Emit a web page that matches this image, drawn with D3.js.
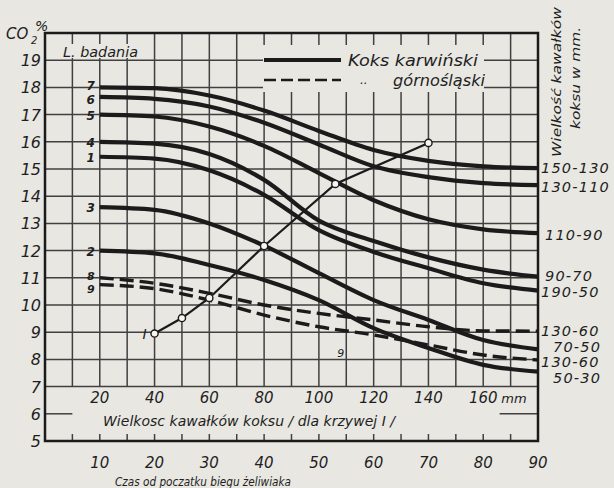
<!DOCTYPE html>
<html><head><meta charset="utf-8">
<script src="https://cdn.jsdelivr.net/npm/d3@7"></script>
<style>
body{margin:0;background:#e8e7e1;}
svg text{font-family:"DejaVu Sans",sans-serif;font-style:italic;fill:#1e1e1e;}
</style></head><body>
<svg id="c" width="614" height="488"></svg>
<script>
// ---------- data ----------
const times   = [10, 20, 30, 40, 50, 60, 70, 80, 90];
const curve7  = [18.0, 17.97, 17.7, 17.15, 16.4, 15.7, 15.3, 15.1, 15.03];
const curve6  = [17.65, 17.58, 17.3, 16.7, 15.9, 15.1, 14.7, 14.48, 14.41];
const curve5  = [17.0, 16.93, 16.56, 15.85, 14.85, 13.85, 13.15, 12.78, 12.64];
const curve4  = [16.0, 15.93, 15.55, 14.6, 13.1, 12.35, 11.75, 11.3, 11.04];
const curve1  = [15.45, 15.38, 14.95, 14.05, 12.75, 11.95, 11.35, 10.8, 10.53];
const curve3  = [13.6, 13.5, 13.0, 12.18, 11.17, 10.18, 9.45, 8.71, 8.37];
const curve2  = [12.0, 11.9, 11.47, 10.92, 10.18, 9.15, 8.42, 7.8, 7.55];
const curve8  = [11.0, 10.8, 10.43, 10.0, 9.69, 9.45, 9.2, 9.05, 9.04];
const curve9  = [10.75, 10.6, 10.18, 9.63, 9.2, 8.9, 8.53, 8.16, 7.98];

const curveIds    = ["7", "6", "5", "4", "1", "3", "2", "8", "9"];
const curveSizes  = ["150-130", "130-110", "110-90", "90-70", "190-50", "70-50", "50-30", "130-60", "130-60"];
const curveDashed = [false, false, false, false, false, false, false, true, true];
const curveValues = [curve7, curve6, curve5, curve4, curve1, curve3, curve2, curve8, curve9];

const sizeI  = [40, 50, 60, 80, 106, 140];      // mm (curve I)
const valueI = [8.95, 9.52, 10.26, 12.17, 14.45, 15.96];

const yTicks     = [5, 6, 7, 8, 9, 10, 11, 12, 13, 14, 15, 16, 17, 18, 19];
const timeTicks  = [10, 20, 30, 40, 50, 60, 70, 80, 90];
const sizeTicks  = [20, 40, 60, 80, 100, 120, 140, 160];
const gridTimes  = [5, 10, 15, 20, 25, 30, 35, 40, 45, 50, 55, 60, 65, 70, 75, 80, 85];
const gridValues = [7, 8, 9, 10, 11, 12, 13, 14, 15, 16, 17, 18, 19];

// ---------- layout ----------
const svg = d3.select("#c");
const L = 45, R = 538, T = 33, B = 441;
const x  = d3.scaleLinear().domain([0, 90]).range([L, R]);
const xs = d3.scaleLinear().domain([0, 180]).range([L, R]);
const y  = d3.scaleLinear().domain([5, 20]).range([B, T]);
const ink = "#1b1b1b", grid = "#404040", bg = "#e8e7e1";

svg.append("rect").attr("width", 614).attr("height", 488).attr("fill", bg);

// grid: vertical and horizontal lines via data joins
const gridG = svg.append("g").attr("class", "grid");
gridG.selectAll("line.v").data(gridTimes).join("line").attr("class", "v")
  .attr("x1", d => x(d)).attr("x2", d => x(d)).attr("y1", y(7)).attr("y2", T)
  .style("stroke", grid).style("stroke-width", "1.5px");
gridG.selectAll("line.vt").data(gridTimes).join("line").attr("class", "vt")
  .attr("x1", d => x(d)).attr("x2", d => x(d)).attr("y1", B).attr("y2", B - 7)
  .style("stroke", grid).style("stroke-width", "1.5px");
gridG.selectAll("line.h").data(gridValues).join("line").attr("class", "h")
  .attr("x1", L).attr("x2", R).attr("y1", d => y(d)).attr("y2", d => y(d))
  .style("stroke", grid).style("stroke-width", "1.5px");
gridG.selectAll("line.h6").data([[0, 5], [83, 90]]).join("line").attr("class", "h6")
  .attr("x1", d => x(d[0])).attr("x2", d => x(d[1])).attr("y1", y(6)).attr("y2", y(6))
  .style("stroke", grid).style("stroke-width", "1.5px");

// cover boxes (legend and title areas)
svg.append("rect").attr("x", 263).attr("y", 45).attr("width", 221).attr("height", 47).attr("fill", bg);
svg.append("rect").attr("x", 58).attr("y", 44).attr("width", 84).attr("height", 14).attr("fill", bg);

// frame
svg.append("rect").attr("x", L).attr("y", T).attr("width", R - L).attr("height", B - T)
  .attr("fill", "none").attr("stroke", ink).attr("stroke-width", 2.5);

// ---------- curves ----------
const line = d3.line().x(d => x(d[0])).y(d => y(d[1])).curve(d3.curveMonotoneX);
curveValues.forEach((vals, i) => {
  svg.append("path").datum(times.map((t, j) => [t, vals[j]]))
    .attr("d", line).attr("fill", "none").attr("stroke", ink)
    .attr("stroke-width", curveDashed[i] ? 3.4 : 4.2)
    .attr("stroke-dasharray", curveDashed[i] ? "14,6" : null);
});

// curve I
const lineI = d3.line().x(d => xs(d[0])).y(d => y(d[1]));
const ptsI = sizeI.map((s, i) => [s, valueI[i]]);
svg.append("path").datum(ptsI).attr("d", lineI).attr("fill", "none")
  .attr("stroke", ink).attr("stroke-width", 2.2);
svg.selectAll("circle.pi").data(ptsI).join("circle").attr("class", "pi")
  .attr("cx", d => xs(d[0])).attr("cy", d => y(d[1])).attr("r", 3.6)
  .attr("fill", "#f6f6f2").attr("stroke", ink).attr("stroke-width", 1.4);
svg.append("text").attr("x", xs(sizeI[0]) - 8).attr("y", y(valueI[0]) + 5)
  .attr("text-anchor", "end").attr("font-size", 14).text("I");

// curve id labels (left)
const idDy = {"7": 3, "6": 7, "5": 5, "4": 5, "1": 5, "3": 5, "2": 5, "8": 2, "9": 8};
curveIds.forEach((id, i) => {
  svg.append("text").attr("x", x(10) - 5).attr("y", y(curveValues[i][0]) + idDy[id])
    .attr("text-anchor", "end").attr("font-size", curveDashed[i] ? 11 : 12)
    .attr("font-weight", "bold").text(id);
});
svg.append("text").attr("x", x(54)).attr("y", y(8.1)).attr("text-anchor", "middle")
  .attr("font-size", 11).text("9");

// right size labels
const sizeDy = [5, 7, 7, 4, 6, 3, 11, 5, 7];
const sizeDx = [3, 3, 7, 7, 3, 15, 15, 3, 3];
curveIds.forEach((id, i) => {
  const v = curveValues[i][curveValues[i].length - 1];
  svg.append("text").attr("x", R + sizeDx[i]).attr("y", y(v) + sizeDy[i])
    .attr("font-size", 14.5).attr("letter-spacing", 1.2).text(curveSizes[i]);
});

// ---------- axes text ----------
yTicks.forEach(v => {
  svg.append("text").attr("x", 41).attr("y", y(v) + 6).attr("text-anchor", "end")
    .attr("font-size", 16).text(v);
});
svg.append("text").attr("x", 6).attr("y", 39).attr("font-size", 15).text("CO");
svg.append("text").attr("x", 31).attr("y", 44).attr("font-size", 10).text("2");
svg.append("text").attr("x", 35).attr("y", 31).attr("font-size", 14).text("%");

timeTicks.forEach(t => {
  svg.append("text").attr("x", x(t)).attr("y", 468).attr("text-anchor", "middle")
    .attr("font-size", 15).text(t);
});
svg.append("text").attr("x", 115).attr("y", 486).attr("font-size", 13)
  .attr("textLength", 176).attr("lengthAdjust", "spacingAndGlyphs")
  .text("Czas od poczatku biegu żeliwiaka");

sizeTicks.forEach(s => {
  svg.append("text").attr("x", xs(s)).attr("y", y(6.5) + 3).attr("text-anchor", "middle")
    .attr("font-size", 15).text(s);
});
svg.append("text").attr("x", xs(160) + 18).attr("y", y(6.5) + 3).attr("font-size", 13).text("mm");
svg.append("text").attr("x", 103).attr("y", 426).attr("font-size", 14)
  .attr("textLength", 292).attr("lengthAdjust", "spacing")
  .text("Wielkosc  kawałków  koksu / dla krzywej  I /");

svg.append("text").attr("x", 63).attr("y", 57).attr("font-size", 14)
  .attr("textLength", 75).attr("lengthAdjust", "spacingAndGlyphs").text("L. badania");

// legend
svg.append("line").attr("x1", 264).attr("x2", 341).attr("y1", 60).attr("y2", 60)
  .attr("stroke", ink).attr("stroke-width", 4);
svg.append("line").attr("x1", 264).attr("x2", 341).attr("y1", 80).attr("y2", 80)
  .attr("stroke", ink).attr("stroke-width", 2.6).attr("stroke-dasharray", "12,5");
svg.append("text").attr("x", 348).attr("y", 66).attr("font-size", 15)
  .attr("textLength", 130).attr("lengthAdjust", "spacingAndGlyphs").text("Koks karwiński");
svg.append("text").attr("x", 360).attr("y", 84).attr("font-size", 12).text("..");
svg.append("text").attr("x", 393).attr("y", 86).attr("font-size", 15)
  .attr("textLength", 92).attr("lengthAdjust", "spacingAndGlyphs").text("górnośląski");

// right rotated title
svg.append("text").attr("transform", "translate(561,82) rotate(-90)").attr("text-anchor", "middle")
  .attr("font-size", 13).attr("textLength", 150).attr("lengthAdjust", "spacingAndGlyphs")
  .text("Wielkość kawałków");
svg.append("text").attr("transform", "translate(580,78) rotate(-90)").attr("text-anchor", "middle")
  .attr("font-size", 13).attr("textLength", 102).attr("lengthAdjust", "spacingAndGlyphs")
  .text("koksu w mm.");
</script>
</body></html>
